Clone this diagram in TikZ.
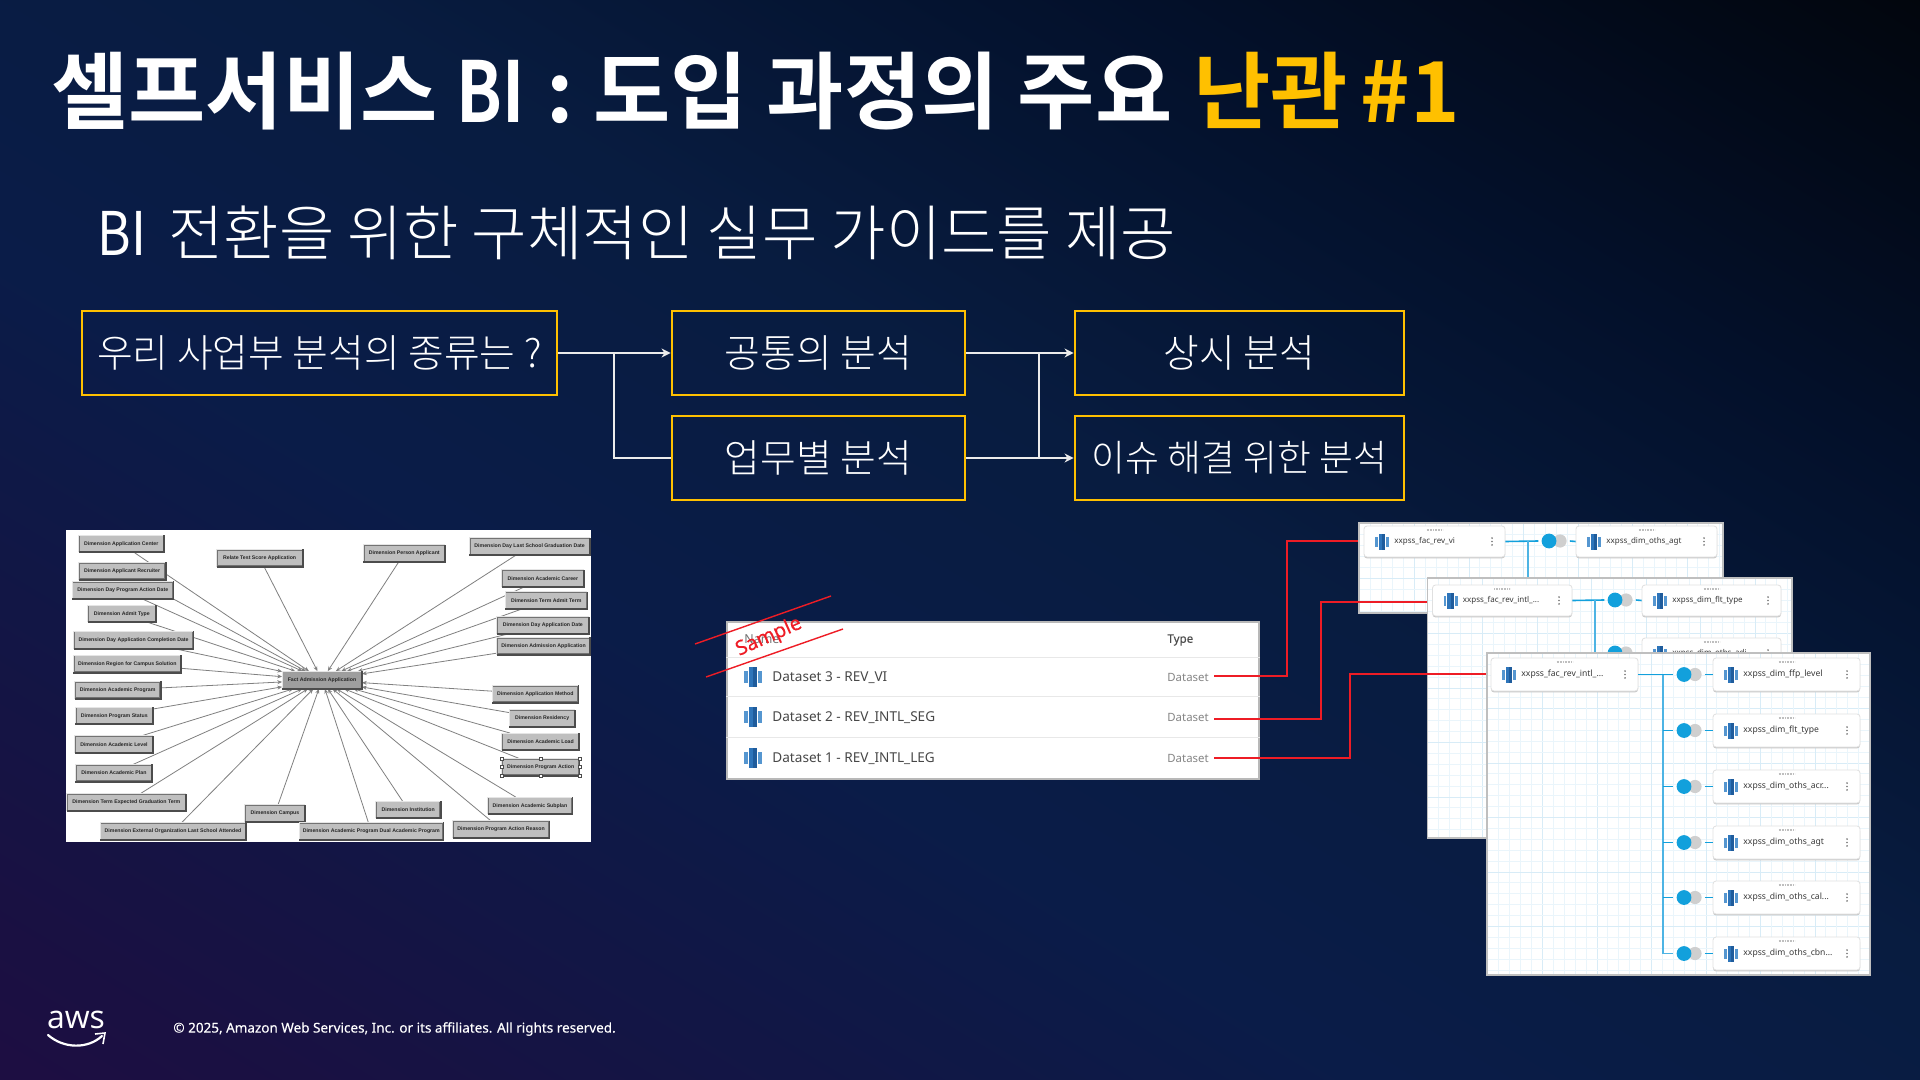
\documentclass[tikz,border=0pt]{standalone}
\usepackage{fontspec}
\usetikzlibrary{arrows.meta,calc}
\setmainfont{Noto Sans}
\newfontfamily\krb{Noto Sans CJK KR Bold}
\newfontfamily\krbn{Noto Sans CJK KR Bold}[FakeStretch=0.8]
\newfontfamily\krl{Noto Sans CJK KR Light}
\newfontfamily\krrn{Noto Sans CJK KR}[FakeStretch=0.85]
\newfontfamily\liber{Liberation Sans Bold}
\newfontfamily\opens{Open Sans}
\newfontfamily\notomed{Noto Sans}[FakeBold=0.25]
\definecolor{amberc}{HTML}{FFC000}
\definecolor{bgA}{HTML}{2A0845}
\definecolor{bgA2}{HTML}{260843}
\definecolor{bgA3}{HTML}{1A1042}
\definecolor{bgB}{HTML}{0A1C48}
\definecolor{bgB2}{HTML}{081C40}
\definecolor{bgC}{HTML}{03102A}
\definecolor{bgD}{HTML}{02060E}
\definecolor{redc}{HTML}{EE1C25}
\definecolor{jblue}{HTML}{4DB4E4}
\definecolor{dotblue}{HTML}{12A0DC}
\definecolor{dotgray}{HTML}{CFCFCF}
\definecolor{gridA}{HTML}{EAF5FB}
\definecolor{gridB}{HTML}{D8ECF7}
\definecolor{icoA}{HTML}{5596D0}
\definecolor{icoB}{HTML}{2E75BA}
\definecolor{icoC}{HTML}{1F5C9C}
\pgfdeclareverticalshading{slidebg}{100bp}{color(0bp)=(bgA); color(5bp)=(bgA2); color(20bp)=(bgA3); color(41bp)=(bgB); color(55bp)=(bgB2); color(70bp)=(bgC); color(84bp)=(bgD); color(88bp)=(black); color(100bp)=(black)}
\pgfdeclarelayer{bglayer}
\pgfdeclarelayer{lineslayer}
\pgfsetlayers{bglayer,lineslayer,main}
\newcommand{\cardsize}{4.0}
\tikzset{
  flowbox/.style={draw=amberc,line width=1.45pt,minimum height=42pt,inner sep=0pt,text=white,font=\krl\fontsize{19.4}{22}\selectfont},
  flowline/.style={draw=white!92!black,line width=.9pt},
  flowarrow/.style={flowline,-{Stealth[length=4.5pt,width=4.5pt]}},
  dimbox/.style={rectangle,fill=black!25,draw=black!55,line width=.6pt,inner sep=0pt,font=\liber\fontsize{2.6}{3.2}\selectfont,text=black!85},
  bevelD/.style={draw=black!70,line width=.9pt},
  bevelL/.style={draw=white!90!black,line width=.5pt},
  dimline/.style={draw=black!50,line width=.4pt},
  dimarrow/.style={dimline,-{Stealth[length=2.4pt,width=2pt]}},
  handle/.style={rectangle,fill=white,draw=black!70,line width=.3pt,minimum size=1.6pt,inner sep=0pt},
  panel/.style={rectangle,fill=white,draw=black!25,line width=.8pt,inner sep=0pt},
  cardbox/.style={rectangle,rounded corners=1.5pt,fill=white,draw=black!12,line width=.4pt,inner sep=0pt},
  cardshadow/.style={fill=black!22,rounded corners=1.5pt},
  cardtext/.style={anchor=west,inner sep=0pt,text=black!78,font=\fontsize{\cardsize}{6}\selectfont},
  jline/.style={draw=jblue,line width=.7pt},
  jline2/.style={draw=dotblue,line width=.8pt},
  bluedot/.style={circle,fill=dotblue,minimum size=7.4pt,inner sep=0pt,outer sep=1.6pt},
  graydot/.style={circle,fill=dotgray,minimum size=6.6pt,inner sep=0pt,outer sep=1.6pt},
  redline/.style={draw=redc,line width=1pt},
  rowtext/.style={anchor=west,inner sep=0pt,text=black!72,font=\fontsize{6.8}{8}\selectfont},
  typetext/.style={anchor=west,inner sep=0pt,text=black!48,font=\fontsize{5.7}{8}\selectfont},
}
\newcommand{\dbicon}[3]{\begin{scope}[shift={(#1,#2)},scale=#3]
  \fill[icoA] (-7,-5) rectangle (-4.2,5);
  \fill[icoB] (-3.4,-8) rectangle (0,8);
  \fill[icoC] (0,-8) rectangle (3.4,8);
  \fill[icoA] (4.2,-5) rectangle (7,5);
\end{scope}}
\newcommand{\dimnode}[6]{%
  \pgfmathsetmacro\dnX{50+(#2+#4)/2*0.35714}%
  \pgfmathsetmacro\dnY{520+(#3+#5)/2/3}%
  \pgfmathsetmacro\dnW{(#4-#2)*0.35714}%
  \pgfmathsetmacro\dnH{(#5-#3)/3}%
  \node[dimbox,minimum width=\dnW*0.5pt,minimum height=\dnH*0.5pt] (#1) at (\dnX,\dnY) {Dimension #6};
  \draw[bevelL] (#1.south west) -- (#1.north west) -- (#1.north east);
  \draw[bevelD] (#1.south west) -- (#1.south east) -- (#1.north east);
}
\newcommand{\dbcard}[6]{%
  \pgfmathsetmacro\cdX{(#2+#4)/2}%
  \pgfmathsetmacro\cdY{(#3+#5)/2}%
  \pgfmathsetmacro\cdW{#4-#2}%
  \pgfmathsetmacro\cdH{#5-#3}%
  \fill[cardshadow] ({#2},{#3+2}) rectangle ({#4},{#5+1.4});
  \node[cardbox,minimum width=\cdW*0.5pt,minimum height=\cdH*0.5pt] (#1) at (\cdX,\cdY) {};
  \dbicon{#2+18}{\cdY}{1}
  \node[cardtext] (#1t) at ({#2+30},\cdY) {#6};
  \foreach \dy in {-3.4,0,3.4} \fill[black!55] ({#4-13},{\cdY+\dy}) circle (.45pt);
  \draw[black!25,line width=.9pt,dash pattern=on .4pt off .4pt] ({\cdX-8},{#3+4}) -- ({\cdX+8},{#3+4});
}
\newcommand{\joint}[4]{% name, centre x of blue dot, y, target card
  \node[graydot] (#1g) at ({#2+11},#3) {};
  \node[bluedot] (#1b) at (#2,#3) {};
  \draw[jline2] (#1g.east) -- (#4.west);
}
\newcommand{\panelgrid}[4]{%
  \begin{scope}
  \clip (#1,#2) rectangle (#3,#4);
  \foreach \gi in {1,...,36} {
    \pgfmathsetmacro\gx{#1+\gi*10.9}
    \pgfmathsetmacro\gy{#2+\gi*10.9}
    \pgfmathtruncatemacro\gm{mod(\gi,5)}
    \ifnum\gm=0 \def\gc{gridB}\else\def\gc{gridA}\fi
    \draw[\gc,line width=.45pt] (\gx,#2) -- (\gx,#4);
    \draw[\gc,line width=.45pt] (#1,\gy) -- (#3,\gy);
  }
  \end{scope}
}
\begin{document}
\begin{tikzpicture}[x=0.5pt,y=-0.5pt]
\useasboundingbox (0,0) rectangle (1920,1080);
\begin{pgfonlayer}{bglayer}
\path[shading=slidebg,shading angle=-31] (0,0) rectangle (1920,1080);
\fill[white] (66,530) rectangle (591,842);
\end{pgfonlayer}

% titles
\node[anchor=west,inner sep=0pt,text=white,font=\krb\fontsize{42}{48}\selectfont] (title) at (51,91) {셀프서비스 {\krbn BI}\hspace{1.5pt} : 도입 과정의 주요 \hspace{1pt}\textcolor{amberc}{난관 \hspace{-3pt}\#1}};
\node[anchor=west,inner sep=0pt,text=white,font=\krl\fontsize{30.1}{36}\selectfont] (subtitle) at (97,233) {{\krrn BI}\hspace{4.5pt} 전환을 위한 구체적인 실무 가이드를 제공};

% flow
\node[flowbox,minimum width=237.5pt] (q) at (319.5,353) {우리 사업부 분석의 종류는 ?};
\node[flowbox,minimum width=146.5pt] (common) at (818.5,353) {공통의 분석};
\node[flowbox,minimum width=146.5pt] (byjob) at (818.5,458) {업무별 분석};
\node[flowbox,minimum width=164.5pt] (always) at (1239.5,353) {상시 분석};
\node[flowbox,minimum width=164.5pt,font=\krl\fontsize{18.4}{22}\selectfont] (issue) at (1239.5,458) {이슈 해결 위한 분석};
\coordinate (fa) at (614,353);
\coordinate (fb) at (1039,353);
\draw[flowarrow] (q) -- (common);
\draw[flowline] (fa) |- (byjob.west);
\draw[flowarrow] (common) -- (always);
\draw[flowarrow] (byjob) -- (issue);
\draw[flowline] (fb) -- (fb |- issue.west);

% schema image
\dimnode{n1}{82}{47}{317}{95}{Application Center}
\pgfmathsetmacro\dnX{50+587*0.35714}
\node[dimbox,minimum width=42.5pt,minimum height=8pt] (n2) at (\dnX,558) {Relate Test Score Application};
\draw[bevelL] (n2.south west) -- (n2.north west) -- (n2.north east);
\draw[bevelD] (n2.south west) -- (n2.south east) -- (n2.north east);
\dimnode{n3}{879}{76}{1105}{124}{Person Applicant}
\dimnode{n4}{1176}{55}{1510}{103}{Day Last School Graduation Date}
\dimnode{n5}{82}{129}{322}{177}{Applicant Recruiter}
\dimnode{n6}{64}{186}{344}{235}{Day Program Action Date}
\dimnode{n7}{1267}{151}{1493}{199}{Academic Career}
\dimnode{n8}{1276}{217}{1503}{265}{Term Admit Term}
\dimnode{n9}{107}{257}{295}{305}{Admit Type}
\dimnode{n10}{68}{335}{400}{385}{Day Application Completion Date}
\dimnode{n11}{1253}{292}{1507}{340}{Day Application Date}
\dimnode{n12}{1253}{354}{1511}{402}{Admission Application}
\dimnode{n13}{67}{407}{366}{456}{Region for Campus Solution}
\dimnode{n14}{71}{486}{308}{534}{Academic Program}
\dimnode{n15}{1240}{498}{1478}{546}{Application Method}
\dimnode{n16}{73}{563}{287}{611}{Program Status}
\dimnode{n17}{1287}{571}{1469}{619}{Residency}
\dimnode{n18}{71}{649}{287}{697}{Academic Level}
\dimnode{n19}{1267}{641}{1480}{689}{Academic Load}
\dimnode{n20}{1267}{717}{1481}{765}{Program Action}
\dimnode{n21}{73}{735}{285}{783}{Academic Plan}
\dimnode{n22}{49}{823}{379}{871}{Term Expected Graduation Term}
\dimnode{n23}{1227}{833}{1461}{881}{Academic Subplan}
\dimnode{n24}{547}{856}{713}{904}{Campus}
\dimnode{n25}{914}{845}{1092}{893}{Institution}
\dimnode{n26}{142}{909}{547}{959}{External Organization Last School Attended}
\dimnode{n27}{699}{909}{1100}{959}{Academic Program Dual Academic Program}
\dimnode{n28}{1129}{904}{1397}{952}{Program Action Reason}
\node[dimbox,fill=black!38,draw=black!70,minimum width=39.3pt,minimum height=8.3pt] (fact) at (322,680) {Fact Admission Application};
\draw[bevelL] (fact.south west) -- (fact.north west) -- (fact.north east);
\draw[bevelD] (fact.south west) -- (fact.south east) -- (fact.north east);
\foreach \a in {north west,north,north east,west,east,south west,south,south east}
  \node[handle] at (n20.\a) {};
\begin{pgfonlayer}{lineslayer}
\foreach \n in {n1,n2,n3,n4,n5,n6,n7,n8,n9,n10,n11,n12,n13,n14,n15,n16,n17,n18,n19,n20,n21,n22,n23,n24,n25,n26,n27,n28}
  \draw[dimarrow] (\n) -- (fact);
\end{pgfonlayer}

% table
\node[rectangle,fill=white,draw=black!28,line width=.8pt,inner sep=0pt,minimum width=266pt,minimum height=78.5pt] (tbl) at (993,700.5) {};
\draw[black!9,line width=.5pt] (tbl.west |- 0,657) -- (tbl.east |- 0,657);
\draw[black!9,line width=.5pt] (tbl.west |- 0,696) -- (tbl.east |- 0,696);
\draw[black!9,line width=.5pt] (tbl.west |- 0,737) -- (tbl.east |- 0,737);
\node[rowtext,text=black!55,font=\fontsize{6.2}{8}\selectfont] (hname) at (744,639) {Name};
\node[typetext,text=black!70,font=\notomed\fontsize{5.8}{8}\selectfont] (htype) at (1167,640) {Type};
\dbicon{753}{677}{1.25}
\dbicon{753}{717}{1.25}
\dbicon{753}{758}{1.25}
\node[rowtext] (r1) at (772,678) {Dataset 3 - REV\_VI};
\node[rowtext] (r2) at (772,718) {Dataset 2 - REV\_INTL\_SEG};
\node[rowtext] (r3) at (772,759) {Dataset 1 - REV\_INTL\_LEG};
\node[typetext] (t1) at (1167,677) {Dataset};
\node[typetext] (t2) at (1167,717) {Dataset};
\node[typetext] (t3) at (1167,758) {Dataset};
\draw[redc,line width=.7pt] (695,644) -- (831,596);
\draw[redc,line width=.7pt] (706,677) -- (843,629);
\node[text=redc,inner sep=0pt,rotate=24,font=\notomed\fontsize{10}{12}\selectfont] (sample) at (769,637) {Sample};

% panel 1
\node[panel,minimum width=182pt,minimum height=45pt] (p1) at (1541,568) {};
\panelgrid{1360}{524}{1722}{612}
\dbcard{c11}{1364}{526}{1505}{557}{xxpss\_fac\_rev\_vi}
\dbcard{c12}{1576}{526}{1717}{557}{xxpss\_dim\_oths\_agt}
\joint{j11}{1549}{541}{c12}
\draw[jline2] (c11.east) -- (j11b.west);
\coordinate (v1) at (1528,541);
\draw[jline] (v1) -- (1528,578);

% panel 2
\node[panel,minimum width=182.2pt,minimum height=130pt] (p2) at (1609.7,708) {};
\panelgrid{1428}{579}{1791}{837}
\dbcard{c21}{1432.5}{585}{1572}{616}{xxpss\_fac\_rev\_intl\_...}
\dbcard{c22}{1642}{585}{1781}{616}{xxpss\_dim\_flt\_type}
\dbcard{c23}{1642}{638}{1781}{669}{xxpss\_dim\_oths\_adi}
\joint{j21}{1615}{600}{c22}
\joint{j22}{1615}{653}{c23}
\draw[jline2] (c21.east) -- (j21b.west);
\coordinate (v2) at (1595,600);
\draw[jline] (v2) |- (j22b.west);

% panel 3
\renewcommand{\cardsize}{4.3}
\node[panel,minimum width=191.5pt,minimum height=161pt] (p3) at (1678.5,814) {};
\panelgrid{1488}{654}{1869}{974}
\dbcard{c30}{1491}{658}{1638}{691}{xxpss\_fac\_rev\_intl\_...}
\dbcard{c31}{1713}{658}{1860}{691}{xxpss\_dim\_ffp\_level}
\dbcard{c32}{1713}{714}{1860}{747}{xxpss\_dim\_flt\_type}
\dbcard{c33}{1713}{770}{1860}{803}{xxpss\_dim\_oths\_acr...}
\dbcard{c34}{1713}{826}{1860}{859}{xxpss\_dim\_oths\_agt}
\dbcard{c35}{1713}{881}{1860}{914}{xxpss\_dim\_oths\_cal...}
\dbcard{c36}{1713}{937}{1860}{970}{xxpss\_dim\_oths\_cbn...}
\joint{j31}{1684}{674.5}{c31}
\joint{j32}{1684}{730.5}{c32}
\joint{j33}{1684}{786.5}{c33}
\joint{j34}{1684}{842.5}{c34}
\joint{j35}{1684}{897.5}{c35}
\joint{j36}{1684}{953.5}{c36}
\draw[jline2] (c30.east) -- (j31b.west);
\coordinate (v3) at (1663,674.5);
\draw[jline] (v3) |- (j36b.west);
\foreach \k in {2,3,4,5}
  \draw[jline2] (v3 |- j3\k b.west) -- (j3\k b.west);

% red connectors
\coordinate (s1) at (1214,676);
\coordinate (s2) at (1214,719);
\coordinate (s3) at (1214,758);
\coordinate (k1) at (1287,541);
\coordinate (k2) at (1321,602);
\coordinate (k3) at (1350,674);
\draw[redline] (s1) -| (k1) -- (k1 -| p1.west);
\draw[redline] (s2) -| (k2) -- (k2 -| p2.west);
\draw[redline] (s3) -| (k3) -- (k3 -| p3.west);

% footer
\node[inner sep=0pt,text=white,font=\opens\fontsize{16}{18}\selectfont] (aws) at (76,1020) {aws};
\draw[white,line width=1.1pt,line cap=round] (48,1035) .. controls (64,1049) and (88,1049) .. (102,1036);
\draw[white,line width=.8pt] (95,1034) -- (105,1033) -- (103,1044);
\node[anchor=west,inner sep=0pt,text=white,font=\notomed\fontsize{6.75}{9}\selectfont] (copy) at (173,1029) {© 2025, Amazon Web Services, Inc. or its affiliates. All rights reserved.};
\end{tikzpicture}
\end{document}
